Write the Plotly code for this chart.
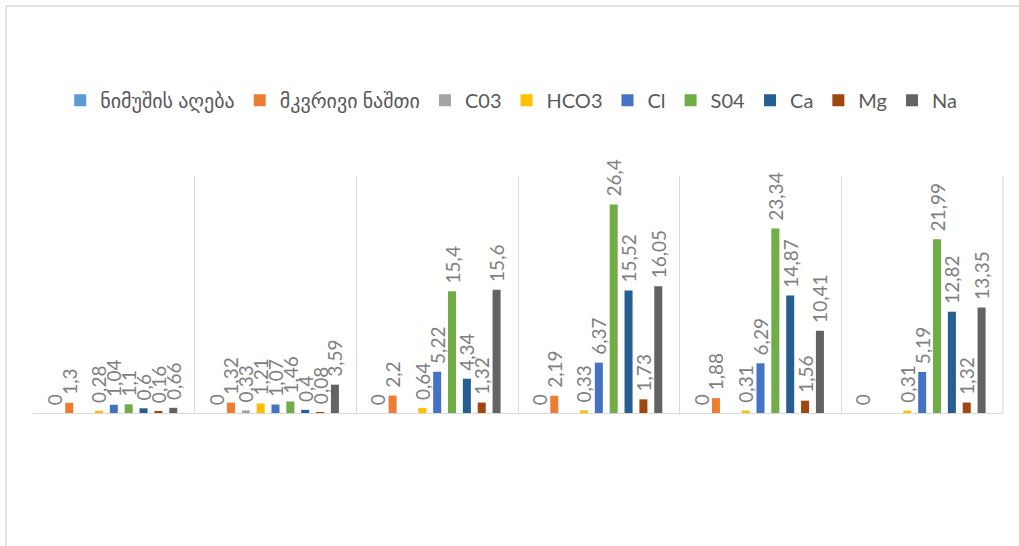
import plotly.graph_objects as go

# Six sampling points (no category captions are shown on the axis)
categories = ["1", "2", "3", "4", "5", "6"]

series_names = ["ნიმუშის აღება", "მკვრივი ნაშთი", "C03", "HCO3", "Cl", "S04", "Ca", "Mg", "Na"]

sample = [0, 0, 0, 0, 0, 0]
dry_residue = [1.3, 1.32, 2.2, 2.19, 1.88, None]
co3 = [None, 0.33, None, None, None, None]
hco3 = [0.28, 1.21, 0.64, 0.33, 0.31, 0.31]
cl = [1.04, 1.07, 5.22, 6.37, 6.29, 5.19]
so4 = [1.1, 1.46, 15.4, 26.4, 23.34, 21.99]
ca = [0.6, 0.4, 4.34, 15.52, 14.87, 12.82]
mg = [0.16, 0.08, 1.32, 1.73, 1.56, 1.32]
na = [0.66, 3.59, 15.6, 16.05, 10.41, 13.35]

series_values = [sample, dry_residue, co3, hco3, cl, so4, ca, mg, na]
colors = ["#5B9BD5", "#ED7D31", "#A5A5A5", "#FFC000", "#4472C4",
          "#70AD47", "#255E91", "#9E480E", "#636363"]

FONT = "Lato, 'DejaVu Sans', sans-serif"


def label(v):
    if v is None:
        return ""
    return f"{v:g}".replace(".", ",")


fig = go.Figure()
for name, vals, col in zip(series_names, series_values, colors):
    fig.add_trace(go.Bar(
        x=categories,
        y=vals,
        name=name,
        marker=dict(color=col, line=dict(width=0)),
        text=[(" " + label(v)) if v is not None else "" for v in vals],
        textposition="outside",
        textangle=-90,
        constraintext="none",
        cliponaxis=False,
        textfont=dict(family=FONT, size=19, color="#7f7f7f"),
    ))

fig.update_layout(
    width=1019,
    height=546,
    margin=dict(l=33, r=16, t=176, b=133),
    paper_bgcolor="white",
    plot_bgcolor="white",
    barmode="group",
    bargap=0.173,
    bargroupgap=0.46,
    showlegend=True,
    legend=dict(
        orientation="h",
        x=0.493, xanchor="center",
        y=1.32, yanchor="middle",
        font=dict(family=FONT, size=20, color="#595959"),
        itemwidth=30,
        traceorder="normal",
    ),
    font=dict(family=FONT),
    xaxis=dict(
        type="category",
        tickson="boundaries",
        showgrid=True,
        gridcolor="#d9d9d9",
        gridwidth=1,
        showline=True,
        linecolor="#d9d9d9",
        linewidth=1,
        showticklabels=False,
        ticks="",
        mirror=False,
    ),
    yaxis=dict(
        range=[0, 30],
        showgrid=False,
        zeroline=False,
        showticklabels=False,
        showline=False,
        ticks="",
    ),
    shapes=[
        # chart frame
        dict(type="rect", xref="paper", yref="paper",
             x0=-0.0278, x1=1.2, y0=-1.0, y1=1.717,
             line=dict(color="#d9d9d9", width=1.5), layer="below"),
        # right edge of the plot area
        dict(type="line", xref="paper", yref="paper",
             x0=1, x1=1, y0=0, y1=1,
             line=dict(color="#d9d9d9", width=1)),
    ],
)

fig.write_html("out.html")
